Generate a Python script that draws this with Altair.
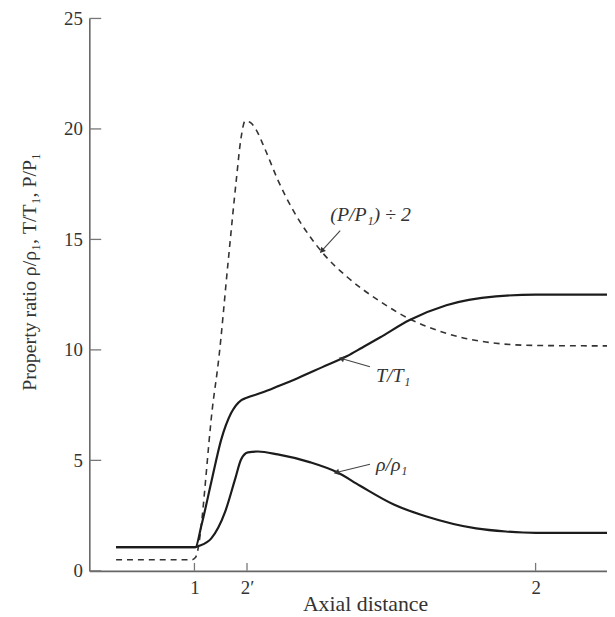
import altair as alt
import pandas as pd

# ---- data (axial distance in arbitrary units, property ratio) ----
rho_x = [0.54, 2.14, 2.20, 2.46, 2.74, 2.94, 3.06, 3.20, 3.40, 3.80, 4.46, 5.00, 5.46, 6.14, 6.80, 7.80, 8.40, 9.00, 10.44]
rho_y = [1.07, 1.07, 1.12, 1.47, 2.68, 4.15, 5.04, 5.36, 5.40, 5.27, 4.91, 4.46, 3.85, 3.00, 2.46, 1.92, 1.78, 1.72, 1.72]

T_x = [0.54, 2.14, 2.26, 2.46, 2.66, 2.86, 3.06, 3.16, 3.50, 3.80, 4.20, 4.70, 5.20, 5.50, 5.86, 6.46, 7.20, 8.20, 9.00, 10.44]
T_y = [1.07, 1.07, 2.05, 4.02, 5.94, 7.14, 7.72, 7.82, 8.08, 8.35, 8.72, 9.22, 9.72, 10.10, 10.56, 11.35, 12.02, 12.42, 12.50, 12.50]

P_x = [0.54, 2.06, 2.14, 2.50, 2.60, 2.80, 2.96, 3.06, 3.14, 3.24, 3.34, 3.54, 3.80, 4.14, 4.46, 4.74, 5.20, 5.86, 6.46, 7.20, 8.20, 9.00, 10.44]
P_y = [0.50, 0.50, 0.60, 7.70, 9.40, 14.0, 17.6, 19.6, 20.35, 20.3, 20.05, 19.10, 17.70, 16.20, 15.10, 14.30, 13.30, 12.20, 11.40, 10.75, 10.30, 10.20, 10.18]

y_ticks = [0, 5, 10, 15, 20, 25]
x_tick_pos = [2.12, 3.18, 9.0]
x_tick_labels = ["1", "2\u2032", "2"]

label_text = ["(P/P\u2081) \u00f7 2", "T/T\u2081", "\u03c1/\u03c1\u2081"]
label_x = [4.86, 5.78, 5.78]
label_y = [16.1, 8.8, 4.8]

arrow_x = [5.06, 5.66, 5.66]
arrow_y = [15.4, 9.24, 4.82]
arrow_x2 = [4.70, 5.10, 5.00]
arrow_y2 = [14.51, 9.60, 4.46]
arrow_angle = [222, 286, 256]

# ---- scales / axes ----
FONT = "Liberation Serif"
xs = alt.Scale(domain=[0, 10.44], nice=False, zero=False)
ys = alt.Scale(domain=[0, 25], nice=False, zero=False)

label_expr = " : ".join(
    [f"abs(datum.value - {p}) < 0.01 ? '{l}'" for p, l in zip(x_tick_pos, x_tick_labels)]
) + " : ''"

xaxis = alt.Axis(
    title="Axial distance", values=x_tick_pos, labelExpr=label_expr,
    ticks=False, tickSize=0, grid=False, labelPadding=8,
    titleX=278, titleY=40, titleBaseline="alphabetic", titleAlign="center",
)
yaxis = alt.Axis(
    title="Property ratio \u03c1/\u03c1\u2081, T/T\u2081, P/P\u2081", values=y_ticks,
    ticks=False, tickSize=0, grid=False, labelPadding=7,
    titleX=-60, titleY=255, titleAngle=270, titleBaseline="middle", titleAlign="center",
)


def X(f="x"):
    return alt.X(f, type="quantitative", scale=xs, axis=xaxis)


def Y(f="y"):
    return alt.Y(f, type="quantitative", scale=ys, axis=yaxis)


df_rho = pd.DataFrame({"x": rho_x, "y": rho_y})
df_T = pd.DataFrame({"x": T_x, "y": T_y})
df_P = pd.DataFrame({"x": P_x, "y": P_y})

line_color = "#1c1c1c"
rho_line = alt.Chart(df_rho).mark_line(interpolate="monotone", color=line_color, strokeWidth=2.2, clip=True).encode(x=X(), y=Y())
T_line = alt.Chart(df_T).mark_line(interpolate="monotone", color=line_color, strokeWidth=2.2, clip=True).encode(x=X(), y=Y())
P_line = alt.Chart(df_P).mark_line(interpolate="monotone", color="#333333", strokeWidth=1.6, strokeDash=[6, 5], clip=True).encode(x=X(), y=Y())

ytick_df = pd.DataFrame({"y": y_ticks})
ytick_rules = alt.Chart(ytick_df).mark_rule(color="#777777", strokeWidth=1.3).encode(
    y=Y(), x=alt.value(0), x2=alt.value(12)
)
xtick_df = pd.DataFrame({"x": x_tick_pos})
xtick_rules = alt.Chart(xtick_df).mark_rule(color="#777777", strokeWidth=1.3).encode(
    x=X(), y=alt.value(557), y2=alt.value(549)
)

lab_df = pd.DataFrame({"x": label_x, "y": label_y, "t": label_text})
labels = alt.Chart(lab_df).mark_text(
    align="left", baseline="middle", font=FONT, fontSize=20, fontStyle="italic", color="#333333"
).encode(x=X(), y=Y(), text="t:N")

arr_df = pd.DataFrame({"x": arrow_x, "y": arrow_y, "x2": arrow_x2, "y2": arrow_y2, "a": arrow_angle})
arrow_lines = alt.Chart(arr_df).mark_rule(color="#444444", strokeWidth=1.1).encode(
    x=X(), y=Y(), x2="x2", y2="y2"
)
arrow_heads = alt.Chart(arr_df).mark_point(shape="triangle", filled=True, size=40, color="#333333", opacity=1).encode(
    x=X("x2"), y=Y("y2"), angle=alt.Angle("a:Q", scale=None)
)

chart = alt.layer(
    P_line, T_line, rho_line, ytick_rules, xtick_rules, arrow_lines, arrow_heads, labels
).properties(
    width=522, height=557,
    padding={"left": 82, "top": 8, "right": 0, "bottom": 44},
    autosize=alt.AutoSizeParams(type="none"),
).configure_view(stroke=None).configure_axis(
    domainColor="#666666", domainWidth=1.6,
    labelFont=FONT, labelFontSize=19, labelColor="#333333",
    titleFont=FONT, titleFontSize=19, titleFontWeight="normal", titleColor="#333333",
).configure_axisX(titleFontSize=22, labelFontSize=19).configure_axisY(titleFontSize=20)

chart.save("out.html", embed_options={"renderer": "svg", "actions": False})
